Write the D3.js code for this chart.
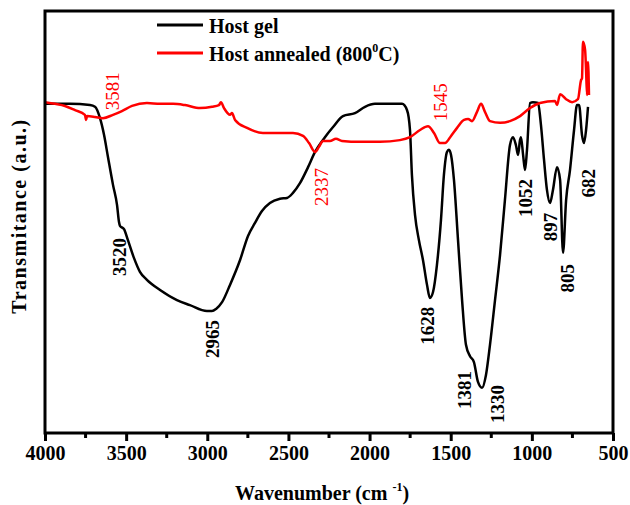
<!DOCTYPE html>
<html lang="en">
<head>
    <meta charset="UTF-8">
    <title>FTIR spectra</title>
    <script src="https://d3js.org/d3.v7.min.js"></script>
    <style>
        body { margin: 0; background: #fff; }
        text { font-family: "Liberation Serif", "Times New Roman", serif; }
    </style>
</head>
<body>
    <div id="chart"></div>

    <script>
        // Host gel spectrum (wavenumber, transmittance a.u.)
        const gelWave = [4000, 3846, 3723, 3692, 3661, 3636, 3612, 3581, 3556, 3544, 3538, 3513, 3489, 3452, 3415, 3372, 3291, 3187, 3107, 3002, 2971, 2946, 2909, 2860, 2798, 2749, 2706, 2663, 2614, 2552, 2509, 2472, 2429, 2379, 2336, 2275, 2225, 2164, 2090, 2028, 1967, 1874, 1800, 1769, 1751, 1739, 1720, 1696, 1671, 1646, 1628, 1609, 1585, 1560, 1542, 1523, 1511, 1498, 1480, 1455, 1430, 1406, 1381, 1357, 1332, 1307, 1283, 1258, 1227, 1196, 1166, 1135, 1116, 1098, 1085, 1073, 1067, 1054, 1042, 1030, 1011, 993, 962, 944, 925, 907, 888, 870, 845, 826, 808, 789, 765, 740, 722, 709, 691, 679, 666, 654];
        const gelT = [78.0, 78.0, 77.7, 77.3, 74.6, 70.6, 65.4, 58.8, 54.0, 50.0, 49.1, 48.3, 45.7, 41.5, 38.2, 36.3, 33.9, 31.5, 30.3, 28.9, 28.9, 29.4, 31.0, 35.1, 41.0, 46.7, 49.8, 52.6, 54.5, 55.5, 55.7, 56.9, 59.2, 63.0, 66.6, 70.1, 72.5, 75.1, 75.8, 77.3, 78.0, 78.0, 78.0, 76.5, 71.8, 61.1, 51.7, 45.7, 41.0, 35.1, 32.0, 33.4, 39.8, 50.5, 61.1, 66.6, 67.1, 65.9, 60.0, 45.7, 31.5, 20.9, 18.2, 16.8, 12.1, 10.7, 13.7, 20.9, 31.5, 42.2, 55.2, 68.2, 70.1, 68.2, 65.9, 69.4, 70.1, 65.9, 62.3, 67.1, 78.2, 78.4, 78.2, 73.0, 64.7, 57.6, 54.5, 57.6, 63.0, 60.0, 42.7, 55.2, 62.3, 71.8, 77.7, 77.7, 70.6, 68.7, 71.8, 77.3];

        // Host annealed (800 C) spectrum
        const annealWave = [4000, 3938, 3877, 3815, 3754, 3747, 3741, 3692, 3643, 3581, 3526, 3464, 3372, 3291, 3211, 3137, 3045, 2971, 2928, 2916, 2897, 2860, 2848, 2829, 2755, 2657, 2552, 2472, 2410, 2373, 2336, 2312, 2287, 2244, 2207, 2170, 2059, 1936, 1813, 1751, 1689, 1640, 1603, 1566, 1535, 1498, 1461, 1418, 1393, 1369, 1338, 1313, 1289, 1258, 1196, 1135, 1073, 1011, 950, 857, 845, 826, 789, 752, 716, 697, 691, 685, 672, 666, 660, 654, 648];
        const annealT = [78.4, 78.0, 77.5, 76.5, 75.4, 74.2, 75.1, 74.9, 74.6, 75.4, 76.3, 77.5, 78.2, 78.0, 78.0, 77.7, 77.0, 77.3, 77.7, 78.4, 77.0, 75.4, 75.8, 74.2, 72.3, 71.1, 71.1, 71.1, 70.4, 68.7, 66.6, 67.8, 69.2, 69.2, 69.7, 69.2, 69.0, 69.0, 69.4, 70.1, 71.8, 72.7, 71.1, 68.7, 68.7, 70.4, 72.3, 74.2, 74.4, 73.9, 76.1, 78.0, 76.1, 73.9, 73.5, 73.9, 75.1, 77.0, 78.2, 78.7, 77.7, 80.3, 79.1, 78.4, 79.1, 83.6, 84.0, 92.7, 90.8, 86.0, 80.1, 87.9, 80.1];

        // peak labels (text, wavenumber and transmittance where the label sits)
        const gelPeaks = ["3520", "2965", "1628", "1381", "1330", "1052", "897", "805", "682"];
        const gelPeakWave = [3538, 2965, 1640, 1412, 1209, 1042, 888, 783, 654];
        const gelPeakT = [41.7, 22.3, 25.4, 10.2, 6.9, 55.7, 48.8, 36.7, 59.2];
        const annealPeaks = ["3581", "2337", "1545"];
        const annealPeakWave = [3587, 2299, 1566];
        const annealPeakT = [81.0, 58.3, 78.4];

        const xTicks = [4000, 3500, 3000, 2500, 2000, 1500, 1000, 500];
        const xMinorTicks = [3750, 3250, 2750, 2250, 1750, 1250, 750];

        const width = 630;
        const height = 505;
        const margin = { top: 11, right: 17, bottom: 72, left: 45 };

        const svg = d3.select("#chart").append("svg")
            .attr("width", width)
            .attr("height", height);

        const x = d3.scaleLinear()
            .domain([4000, 500])
            .range([margin.left, width - margin.right]);

        const y = d3.scaleLinear()
            .domain([0, 100])
            .range([height - margin.bottom, margin.top]);

        const line = d3.line()
            .x(d => x(d[0]))
            .y(d => y(d[1]))
            .curve(d3.curveMonotoneX);

        const plot = svg.append("g");

        plot.append("path")
            .datum(gelWave.map((w, i) => [w, gelT[i]]))
            .attr("fill", "none")
            .attr("stroke", "#000")
            .attr("stroke-width", 2.5)
            .attr("stroke-linejoin", "round")
            .attr("d", line);

        plot.append("path")
            .datum(annealWave.map((w, i) => [w, annealT[i]]))
            .attr("fill", "none")
            .attr("stroke", "#ff0000")
            .attr("stroke-width", 2.5)
            .attr("stroke-linejoin", "round")
            .attr("d", line);

        // frame
        svg.append("rect")
            .attr("x", margin.left)
            .attr("y", margin.top)
            .attr("width", width - margin.left - margin.right)
            .attr("height", height - margin.top - margin.bottom)
            .attr("fill", "none")
            .attr("stroke", "#000")
            .attr("stroke-width", 3);

        // x axis
        const xAxis = svg.append("g")
            .attr("transform", `translate(0,${height - margin.bottom})`)
            .call(d3.axisBottom(x).tickValues(xTicks).tickSize(8).tickPadding(5).tickFormat(d3.format("d")));
        xAxis.select(".domain").remove();
        xAxis.selectAll(".tick line").attr("stroke-width", 3);
        xAxis.selectAll("text")
            .attr("font-size", 20)
            .attr("font-weight", "bold")
            .attr("fill", "#000")
            .attr("font-family", "Liberation Serif");

        svg.append("g")
            .selectAll("line")
            .data(xMinorTicks)
            .enter().append("line")
            .attr("x1", d => x(d))
            .attr("x2", d => x(d))
            .attr("y1", height - margin.bottom)
            .attr("y2", height - margin.bottom + 5)
            .attr("stroke", "#000")
            .attr("stroke-width", 3);

        // axis titles
        const xTitle = svg.append("text")
            .attr("x", 235)
            .attr("y", 500)
            .attr("font-size", 20)
            .attr("font-weight", "bold");
        xTitle.append("tspan").text("Wavenumber (cm ");
        xTitle.append("tspan").attr("font-size", 12).attr("dy", -9).text("-1");
        xTitle.append("tspan").attr("dy", 9).text(")");

        svg.append("text")
            .attr("transform", "translate(26,216) rotate(-90)")
            .attr("text-anchor", "middle")
            .attr("font-size", 20)
            .attr("font-weight", "bold")
            .attr("letter-spacing", 1.5)
            .text("Transmitance (a.u.)");

        // peak labels
        svg.append("g")
            .selectAll("text")
            .data(gelPeaks)
            .enter().append("text")
            .attr("transform", (d, i) => `translate(${x(gelPeakWave[i])},${y(gelPeakT[i])}) rotate(-90)`)
            .attr("text-anchor", "middle")
            .attr("dominant-baseline", "central")
            .attr("font-size", 19)
            .attr("font-weight", "bold")
            .attr("fill", "#000")
            .text(d => d);

        svg.append("g")
            .selectAll("text")
            .data(annealPeaks)
            .enter().append("text")
            .attr("transform", (d, i) => `translate(${x(annealPeakWave[i])},${y(annealPeakT[i])}) rotate(-90)`)
            .attr("text-anchor", "middle")
            .attr("dominant-baseline", "central")
            .attr("font-size", 19)
            .attr("fill", "#ff0000")
            .text(d => d);

        // legend
        const legend = svg.append("g");
        const legendItems = [
            { color: "#000", y: 25 },
            { color: "#ff0000", y: 53 }
        ];
        legend.selectAll("line")
            .data(legendItems)
            .enter().append("line")
            .attr("x1", 157)
            .attr("x2", 203)
            .attr("y1", d => d.y)
            .attr("y2", d => d.y)
            .attr("stroke", d => d.color)
            .attr("stroke-width", 3);

        legend.append("text")
            .attr("x", 209)
            .attr("y", 33)
            .attr("font-size", 20)
            .attr("font-weight", "bold")
            .text("Host gel");

        const annealLabel = legend.append("text")
            .attr("x", 209)
            .attr("y", 61)
            .attr("font-size", 20)
            .attr("font-weight", "bold");
        annealLabel.append("tspan").text("Host annealed (800");
        annealLabel.append("tspan").attr("font-size", 12).attr("dy", -9).text("0");
        annealLabel.append("tspan").attr("dy", 9).text("C)");
    </script>
</body>
</html>
